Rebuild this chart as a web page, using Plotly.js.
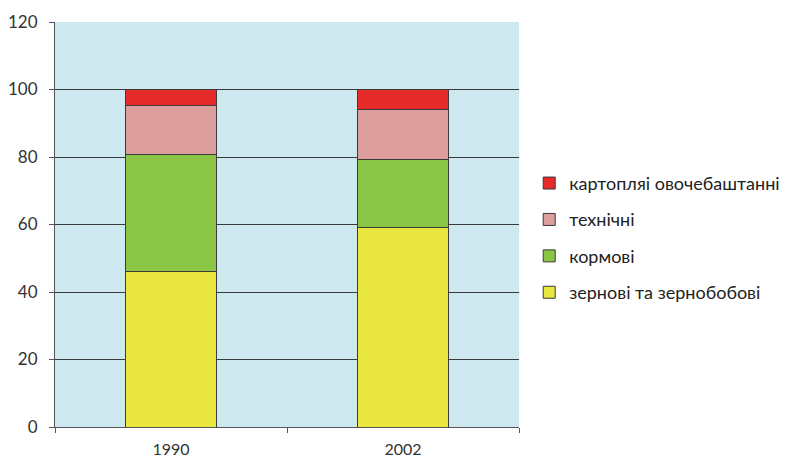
<!DOCTYPE html>
<html><head><meta charset="utf-8">
<script src="https://cdn.plot.ly/plotly-3.0.1.min.js"></script>
<style>body{margin:0;background:#fff}</style>
</head><body>
<div id="chart" style="width:790px;height:466px"></div>
<script>
const years = ['1990', '2002'];
const seriesNames = ['зернові та зернобобові', 'кормові', 'технічні', 'картопляі овочебаштанні'];
const grain = [46.2, 59.0];
const fodder = [34.4, 20.4];
const technical = [14.8, 14.8];
const potato = [4.6, 5.8];
const colors = ['#e9e73f', '#8ac546', '#dc9d9d', '#e62a2a'];
const values = [grain, fodder, technical, potato];

const traces = values.map((v, i) => ({
  type: 'bar',
  name: seriesNames[i],
  legendgroup: 'g' + i,
  legendrank: 10 - i,
  x: years,
  y: v,
  marker: {color: colors[i], line: {color: '#3a3a3a', width: 1}},
  hoverinfo: 'skip'
}));

const layout = {
  width: 790, height: 466,
  margin: {l: 55, r: 271, t: 22, b: 39, autoexpand: false},
  barmode: 'stack',
  bargap: 0.604,
  paper_bgcolor: '#ffffff',
  plot_bgcolor: '#cde8ee',
  font: {family: 'Lato, "Open Sans", sans-serif', color: '#333333', size: 16},
  xaxis: {
    type: 'category',
    showline: true, linecolor: '#555555', linewidth: 1,
    ticks: 'outside', tickson: 'boundaries', ticklen: 5, tickcolor: '#555555',
    tickfont: {size: 16, color: '#333333'},
    ticklabelstandoff: 8,
    showgrid: false
  },
  yaxis: {
    range: [0, 120], dtick: 20,
    showline: true, linecolor: '#555555', linewidth: 1,
    ticks: 'outside', ticklen: 5, tickcolor: '#555555',
    gridcolor: '#3a3a3a', gridwidth: 1,
    zeroline: false,
    ticklabelstandoff: 8,
    tickfont: {size: 17, color: '#333333'}
  },
  legend: {
    x: 1.022, y: 0.467, xanchor: 'left', yanchor: 'middle',
    traceorder: 'grouped',
    tracegroupgap: 10,
    font: {size: 18, color: '#222222'},
    itemwidth: 30
  },
  showlegend: true
};

Plotly.newPlot('chart', traces, layout, {displayModeBar: false, staticPlot: true});
</script>
</body></html>
